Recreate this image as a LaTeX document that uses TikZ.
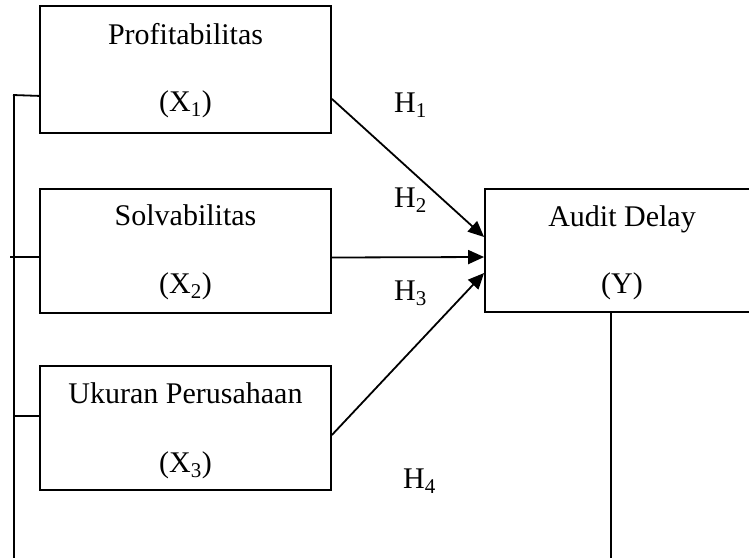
\documentclass[tikz,border=0pt]{standalone}
\usepackage{fontspec}
\setmainfont{Liberation Serif}
\usetikzlibrary{arrows.meta,calc}
\tikzset{
  box/.style={draw, line width=1.8pt, rectangle, inner sep=0pt},
  txt/.style={anchor=base, inner sep=0pt, font=\fontsize{30}{36}\selectfont},
  hlab/.style={anchor=base west, inner sep=0pt, font=\fontsize{30}{36}\selectfont},
  conn/.style={line width=1.8pt},
  arr/.style={line width=1.8pt, -{Triangle[length=16pt,width=14pt]}}
}
\begin{document}
\begin{tikzpicture}[x=1pt,y=-1pt]
\useasboundingbox (0,0) rectangle (749,558);
\clip (0,0) rectangle (749,558);
% boxes
\node[box, minimum width=291pt, minimum height=127pt] (p) at (185.5,69.5) {};
\node[box, minimum width=291pt, minimum height=124pt] (s) at (185.5,251) {};
\node[box, minimum width=291pt, minimum height=124pt] (u) at (185.5,428) {};
\node[box, minimum width=274pt, minimum height=123pt] (y) at (622,250.5) {};
% texts
\node[txt] (pt1) at (185.5,44) {Profitabilitas};
\node[txt] (pt2) at (185.5,111) {(X\textsubscript{1})};
\node[txt] (st1) at (185.5,225) {Solvabilitas};
\node[txt] (st2) at (185.5,293) {(X\textsubscript{2})};
\node[txt] (ut1) at (185.5,403) {Ukuran Perusahaan};
\node[txt] (ut2) at (185.5,472) {(X\textsubscript{3})};
\node[txt] (yt1) at (622,226) {Audit Delay};
\node[txt] (yt2) at (622,293) {(Y)};
% hypothesis labels
\node[hlab] (h1) at (394,112) {H\textsubscript{1}};
\node[hlab] (h2) at (394,207) {H\textsubscript{2}};
\node[hlab] (h3) at (394,300) {H\textsubscript{3}};
\node[hlab] (h4) at (403,488) {H\textsubscript{4}};
% left bracket
\coordinate (vt) at (14,95);
\coordinate (vb) at (14,558);
\coordinate (l1) at (13,95);
\coordinate (l2) at (10,257);
\coordinate (l3) at (14,416);
\draw[conn] (vt) -- (vb);
\draw[conn] (l1) -- ($(p.south west)+(0,-38)$);
\draw[conn] (l2) -- ($(s.west)+(0,6)$);
\draw[conn] (l3) -- ($(u.west)+(0,-12)$);
% arrows
\draw[arr] ($(p.south east)+(0,-35)$) -- ($(y.west)+(0,-13.5)$);
\draw[arr] ($(s.east)+(0,6.5)$) -- ($(y.west)+(0,6.5)$);
\draw[arr] ($(u.east)+(0,7)$) -- ($(y.west)+(0,22.5)$);
% Y down line
\coordinate (yb) at (611,558);
\draw[conn] ($(y.south)+(-11,0)$) -- (yb);
\end{tikzpicture}
\end{document}
